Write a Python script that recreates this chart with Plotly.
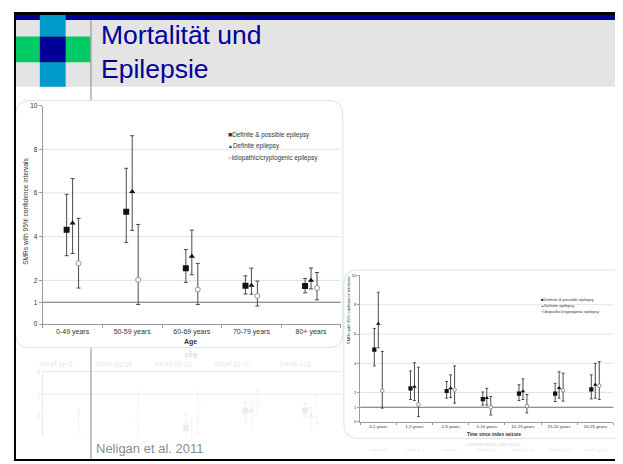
import plotly.graph_objects as go

# The page body has an 8px default margin, so the figure is placed at (8, 8)
# and all slide pixel coordinates are converted relative to that origin.
OFF = 8
W, H = 623 - OFF, 464 - OFF


def X(px):
    return (px - OFF) / W


def Y(py):
    return 1 - (py - OFF) / H


# ---------------- data ----------------
age_categories = ["0-49 years", "50-59 years", "60-69 years", "70-79 years", "80+ years"]
age_def_poss = [4.32, 5.14, 2.56, 1.76, 1.74]
age_def_poss_lo = [3.13, 3.73, 1.91, 1.38, 1.43]
age_def_poss_hi = [5.94, 7.13, 3.41, 2.21, 2.09]
age_def = [4.62, 6.06, 3.10, 1.77, 2.00]
age_def_lo = [3.23, 4.29, 2.26, 1.37, 1.61]
age_def_hi = [6.66, 8.62, 4.30, 2.56, 2.57]
age_idio = [2.78, 2.03, 1.58, 1.29, 1.65]
age_idio_lo = [1.65, 0.90, 0.90, 0.83, 1.11]
age_idio_hi = [4.84, 4.56, 2.78, 1.97, 2.36]

time_categories = ["0-1 years", "1-2 years", "2-5 years", "5-10 years",
                   "10-15 years", "15-20 years", "20-25 years"]
time_def_poss = [4.94, 2.29, 2.11, 1.55, 1.93, 1.93, 2.22]
time_def_poss_lo = [3.82, 1.53, 1.62, 1.15, 1.46, 1.39, 1.57]
time_def_poss_hi = [6.38, 3.48, 2.76, 2.04, 2.54, 2.63, 3.21]
time_def = [6.70, 2.40, 2.29, 1.64, 2.09, 2.31, 2.54]
time_def_lo = [5.06, 1.46, 1.66, 1.15, 1.53, 1.62, 1.62]
time_def_hi = [8.85, 4.04, 3.21, 2.29, 2.94, 3.42, 4.00]
time_idio = [2.13, 1.19, 2.20, 0.99, 1.08, 2.16, 2.47]
time_idio_lo = [0.94, 0.36, 1.28, 0.47, 0.61, 1.42, 1.53]
time_idio_hi = [4.81, 3.73, 3.82, 1.73, 1.87, 3.33, 4.11]

series_names = ["Definite & possible epilepsy", "Definite epilepsy",
                "Idiopathic/cryptogenic epilepsy"]
y_ticks = [0, 1, 2, 4, 6, 8, 10]
grid_values = [2, 4, 6, 8]
reference_smr = 1

FONT = "Liberation Sans, Arial, sans-serif"
TXT = "#333333"
BAR = "#4a4a4a"

fig = go.Figure()


def add_series(cats, vals, lo, hi, offset, xa, ya, symbol, size, fill, lcol, capw, opacity=1.0):
    xs = [i + offset for i in range(len(cats))]
    fig.add_trace(go.Scatter(
        x=xs, y=vals, xaxis=xa, yaxis=ya, mode="markers",
        marker=dict(symbol=symbol, size=size, color=fill,
                    line=dict(color=lcol, width=0.8 if fill == "white" else 0)),
        error_y=dict(type="data", symmetric=False,
                     array=[h - v for h, v in zip(hi, vals)],
                     arrayminus=[v - l for v, l in zip(vals, lo)],
                     color=BAR, thickness=1, width=capw),
        opacity=opacity, showlegend=False, hoverinfo="skip", cliponaxis=True))


def add_chart(cats, data, off, xa, ya, sizes, capw, opacity=1.0):
    (a, alo, ahi), (b, blo, bhi), (c, clo, chi) = data
    add_series(cats, a, alo, ahi, -off, xa, ya, "square", sizes[0], "#111111", "#111111", capw, opacity)
    add_series(cats, b, blo, bhi, 0.0, xa, ya, "triangle-up", sizes[1], "#111111", "#111111", capw, opacity)
    add_series(cats, c, clo, chi, off, xa, ya, "circle", sizes[2], "white", "#777777", capw, opacity)


age_data = [(age_def_poss, age_def_poss_lo, age_def_poss_hi),
            (age_def, age_def_lo, age_def_hi),
            (age_idio, age_idio_lo, age_idio_hi)]
time_data = [(time_def_poss, time_def_poss_lo, time_def_poss_hi),
             (time_def, time_def_lo, time_def_hi),
             (time_idio, time_idio_lo, time_idio_hi)]

add_chart(age_categories, age_data, 0.1, "x", "y", (6, 5.5, 5), 2)
add_chart(time_categories, time_data, 0.11, "x2", "y2", (4.2, 4, 3.6), 1.4)
# faint mirrored reflection beneath the first chart
add_chart(age_categories, age_data, 0.1, "x3", "y3", (6, 5.5, 5), 2, opacity=0.08)

shapes = []


def rect(x0, y0, x1, y1, color, layer="below"):
    shapes.append(dict(type="rect", xref="paper", yref="paper", x0=X(x0), x1=X(x1),
                       y0=Y(y1), y1=Y(y0), fillcolor=color, line=dict(width=0), layer=layer))


def rounded(x0, y0, x1, y1, r, color):
    p = (f"M {X(x0 + r)},{Y(y0)} L {X(x1 - r)},{Y(y0)} Q {X(x1)},{Y(y0)} {X(x1)},{Y(y0 + r)} "
         f"L {X(x1)},{Y(y1 - r)} Q {X(x1)},{Y(y1)} {X(x1 - r)},{Y(y1)} "
         f"L {X(x0 + r)},{Y(y1)} Q {X(x0)},{Y(y1)} {X(x0)},{Y(y1 - r)} "
         f"L {X(x0)},{Y(y0 + r)} Q {X(x0)},{Y(y0)} {X(x0 + r)},{Y(y0)} Z")
    shapes.append(dict(type="path", xref="paper", yref="paper", path=p, fillcolor="white",
                       line=dict(color=color, width=1), layer="below"))


# header
rect(12, 11, 618, 16, "#000099")
rect(12, 16, 618, 84, "#e4e4e4")
rect(36, 11, 62, 84, "#0099cc")
rect(12, 33, 87, 59, "#00cc66")
rect(36, 33, 62, 59, "#000099")
shapes.append(dict(type="line", xref="paper", yref="paper", x0=X(87.5), x1=X(87.5), y0=Y(16), y1=Y(464),
                   line=dict(color="#8a8a8a", width=1), layer="below"))
# chart frames
rounded(11.5, 98, 341, 349, 14, "#cfe7df")
rounded(342, 270, 640, 441, 14, "#cfe7df")

# grid lines and reference line
for ya, xa in (("y", "x"), ("y2", "x2")):
    for g in grid_values:
        shapes.append(dict(type="line", xref=f"{xa} domain", yref=ya, x0=0, x1=1, y0=g, y1=g,
                           line=dict(color="#e3e3e3", width=1), layer="below"))
    shapes.append(dict(type="line", xref=f"{xa} domain", yref=ya, x0=0, x1=1,
                       y0=reference_smr, y1=reference_smr,
                       line=dict(color="#6e6e6e", width=1.2), layer="below"))
shapes.append(dict(type="line", xref="x3 domain", yref="y3", x0=0, x1=1,
                   y0=reference_smr, y1=reference_smr,
                   line=dict(color="rgba(110,110,110,0.15)", width=1.2), layer="below"))

# black slide border
rect(10, 8, 621, 11, "#000000", "above")
rect(10, 8, 12, 464, "#000000", "above")
rect(618, 8, 621, 464, "#000000", "above")
rect(10, 462, 621, 464, "#000000", "above")

ann = []


def text(x, y, s, size, color=TXT, xanchor="center", yanchor="middle", angle=0, bold=False, align="center"):
    ann.append(dict(x=X(x), y=Y(y), xref="paper", yref="paper", text=f"<b>{s}</b>" if bold else s,
                    showarrow=False, xanchor=xanchor, yanchor=yanchor, textangle=angle, align=align,
                    font=dict(size=size, color=color, family=FONT)))


text(96, 14, "Mortalität und<br>Epilepsie", 26.5, color="#000099", xanchor="left", yanchor="top", align="left")
text(91, 451, "Neligan et al. 2011", 13, color="#8c8c8c", xanchor="left")

# chart 1 texts
text(22, 210, "SMRs with 95% confidence intervals", 6.6, angle=-90)
text(188, 343, "Age", 7, bold=True)
symbols = ["■", "▲", "○"]
sym_sizes = [7, 5, 6]
for i, (nm, sy) in enumerate(zip(series_names, symbols)):
    text(223, 133 + i * 11.5, f"<span style='font-size:{sym_sizes[i]}px'>{sy}</span>{nm}", 6.3, xanchor="left")
    text(538.5, 300 + i * 6, f"<span style='font-size:{sym_sizes[i] * 0.65:.1f}px'>{sy}</span>{nm}", 4.1,
         xanchor="left")

# chart 2 texts
text(347, 311, "SMRs with 95% confidence intervals", 4.2, angle=-90)
text(493, 437, "Time since index seizure", 4.6, bold=True)

# faint reflections
text(188, 357, "Age", 7, color="rgba(120,120,120,0.25)", angle=180, bold=True)
text(493, 448, "Time since index seizure", 4.6, color="rgba(120,120,120,0.25)", angle=180, bold=True)
for i, c in enumerate(time_categories):
    text(376.7 + i * 36.4, 454, c, 4.4, color="rgba(120,120,120,0.25)", angle=180)

axis_font = dict(family=FONT, color=TXT)

fig.update_layout(
    width=W, height=H, margin=dict(l=0, r=0, t=0, b=0),
    paper_bgcolor="white", plot_bgcolor="rgba(0,0,0,0)",
    shapes=shapes, annotations=ann, showlegend=False,
    xaxis=dict(domain=[X(39), X(339)], range=[-0.5, len(age_categories) - 0.5], anchor="y",
               tickvals=list(range(len(age_categories))), ticktext=age_categories,
               ticks="", showgrid=False, zeroline=False, showline=True, linecolor="#9a9a9a",
               tickfont=dict(size=7, **axis_font),
               minor=dict(ticks="outside", tick0=0.5, dtick=1, ticklen=3, tickcolor="#9a9a9a", showgrid=False)),
    yaxis=dict(domain=[Y(325), Y(103)], range=[0, 10], anchor="x",
               tickvals=y_ticks, ticks="outside", ticklen=3, tickcolor="#9a9a9a",
               showgrid=False, zeroline=False, showline=True, linecolor="#9a9a9a",
               tickfont=dict(size=6.5, **axis_font)),
    xaxis2=dict(domain=[X(358.5), X(613.3)], range=[-0.5, len(time_categories) - 0.5], anchor="y2",
                tickvals=list(range(len(time_categories))), ticktext=time_categories,
                ticks="", showgrid=False, zeroline=False, showline=True, linecolor="#9a9a9a",
                tickfont=dict(size=4.4, **axis_font),
                minor=dict(ticks="outside", tick0=0.5, dtick=1, ticklen=2, tickcolor="#9a9a9a", showgrid=False)),
    yaxis2=dict(domain=[Y(424.3), Y(275.5)], range=[0, 10], anchor="x2",
                tickvals=y_ticks, ticks="outside", ticklen=2, tickcolor="#9a9a9a",
                showgrid=False, zeroline=False, showline=True, linecolor="#9a9a9a",
                tickfont=dict(size=4.2, **axis_font)),
    xaxis3=dict(domain=[X(39), X(339)], range=[-0.5, len(age_categories) - 0.5], anchor="y3",
                side="top", tickvals=list(range(len(age_categories))), ticktext=age_categories,
                tickangle=180, ticks="", showgrid=False, zeroline=False, showline=True,
                linecolor="rgba(150,150,150,0.2)",
                tickfont=dict(size=7, family=FONT, color="rgba(120,120,120,0.22)")),
    yaxis3=dict(domain=[Y(440), Y(374)], range=[(440 - 374) / 22.2, 0], anchor="x3",
                tickvals=y_ticks, ticks="", showgrid=False, zeroline=False, showline=True,
                linecolor="rgba(150,150,150,0.2)",
                tickfont=dict(size=6.5, family=FONT, color="rgba(120,120,120,0.22)")),
)

fig.write_html("out.html")
